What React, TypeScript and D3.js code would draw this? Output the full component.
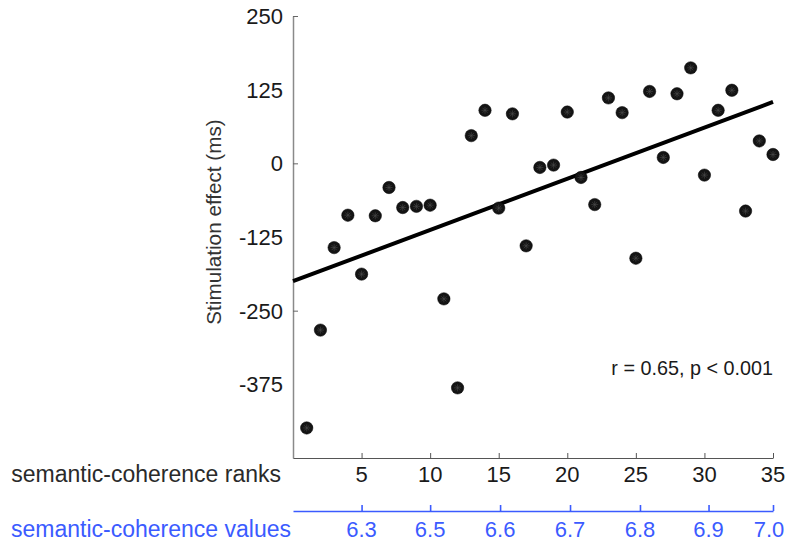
import { useEffect, useRef } from "react";
import * as d3 from "d3";

// Stimulation effect (ms) for each semantic-coherence rank (1..35)
const ranks = d3.range(1, 36);
const effects = [
  -449, -283, -143, -88, -188, -89, -41, -75, -73, -71,
  -230, -381, 47, 90, -76, 84, -140, -7, -3, 87,
  -24, -70, 111, 86, -161, 122, 10, 118, 162, -20,
  90, 124, -81, 38, 15,
];

// Least-squares line as drawn in the figure
const fitIntercept = -200;
const fitSlope = 8.69;

const yTickValues = [250, 0, -250];
const yLabelValues = [250, 125, 0, -125, -250, -375];
const rankTicks = [5, 10, 15, 20, 25, 30, 35];

// semantic-coherence values and the rank position they fall on
const cohValues = ["6.3", "6.5", "6.6", "6.7", "6.8", "6.9", "7.0"];
const cohRanks = [5, 10, 15.1, 20.2, 25.3, 30.3, 35];

const annotation = "r = 0.65, p < 0.001";

const BLUE = "#3b5bff";
const FONT = "'Liberation Sans', Arial, Helvetica, sans-serif";

export default function App() {
  const svgRef = useRef<SVGSVGElement>(null);
  const width = 790;
  const height = 546;

  useEffect(() => {
    if (!svgRef.current) return;
    const svg = d3.select(svgRef.current);
    svg.selectAll("*").remove();

    const x = d3.scaleLinear().domain([0, 35]).range([293, 773]);
    const y = d3.scaleLinear().domain([-500, 250]).range([458, 16]);

    // y axis (ticks inward)
    const yAxis = svg.append("g")
      .attr("transform", `translate(${x(0)},0)`)
      .call(d3.axisRight(y).tickValues(yTickValues).tickSize(5).tickSizeOuter(0).tickFormat(() => ""));
    yAxis.select(".domain").attr("stroke", "#8a8a8a").attr("stroke-width", 1.5);
    yAxis.selectAll(".tick line").attr("stroke", "#666");

    // y labels
    svg.append("g")
      .selectAll("text")
      .data(yLabelValues)
      .join("text")
      .attr("x", 283)
      .attr("y", d => y(d))
      .attr("dy", "0.36em")
      .attr("text-anchor", "end")
      .attr("font-family", FONT)
      .attr("font-size", 22)
      .attr("fill", "#1a1a1a")
      .text(d => (d < 0 ? "-" + Math.abs(d) : String(d)));

    // x axis (ranks)
    const xAxis = svg.append("g")
      .attr("transform", `translate(0,${y(-500)})`)
      .call(d3.axisTop(x).tickValues(rankTicks).tickSize(5).tickSizeOuter(0).tickFormat(() => ""));
    xAxis.select(".domain").attr("stroke", "#555").attr("stroke-width", 1.2);
    xAxis.selectAll(".tick line").attr("stroke", "#555");

    svg.append("g")
      .selectAll("text")
      .data(rankTicks)
      .join("text")
      .attr("x", d => x(d))
      .attr("y", 482)
      .attr("text-anchor", "middle")
      .attr("font-family", FONT)
      .attr("font-size", 22)
      .attr("fill", "#1a1a1a")
      .text(d => String(d));

    svg.append("text")
      .attr("x", 281)
      .attr("y", 482)
      .attr("text-anchor", "end")
      .attr("font-family", FONT)
      .attr("font-size", 23)
      .attr("fill", "#2a2a2a")
      .text("semantic-coherence ranks");

    // blue axis (values)
    const vAxis = svg.append("g")
      .attr("transform", "translate(0,511)")
      .call(d3.axisTop(x).tickValues(cohRanks).tickSize(6).tickSizeOuter(0).tickFormat(() => ""));
    vAxis.select(".domain").attr("stroke", BLUE).attr("stroke-width", 1.6);
    vAxis.selectAll(".tick line").attr("stroke", BLUE).attr("stroke-width", 1.6);

    svg.append("g")
      .selectAll("text")
      .data(cohValues)
      .join("text")
      .attr("x", (_d, i) => x(cohRanks[i]))
      .attr("y", 537)
      .attr("text-anchor", "middle")
      .attr("dx", (_d, i) => (i === cohValues.length - 1 ? -4 : 0))
      .attr("font-family", FONT)
      .attr("font-size", 22)
      .attr("fill", BLUE)
      .text(d => d);

    svg.append("text")
      .attr("x", 291)
      .attr("y", 537)
      .attr("text-anchor", "end")
      .attr("font-family", FONT)
      .attr("font-size", 23)
      .attr("fill", BLUE)
      .text("semantic-coherence values");

    // y axis title
    svg.append("text")
      .attr("transform", "translate(221,222) rotate(-90)")
      .attr("text-anchor", "middle")
      .attr("font-family", FONT)
      .attr("font-size", 20.7)
      .attr("fill", "#333")
      .text("Stimulation effect (ms)");

    // regression line
    svg.append("line")
      .attr("x1", x(0))
      .attr("y1", y(fitIntercept))
      .attr("x2", x(35))
      .attr("y2", y(fitIntercept + fitSlope * 35))
      .attr("stroke", "#000")
      .attr("stroke-width", 4);

    // points
    const pts = svg.append("g")
      .selectAll("g")
      .data(ranks)
      .join("g")
      .attr("transform", (d, i) => `translate(${x(d)},${y(effects[i])})`);
    pts.append("circle")
      .attr("r", 6.2)
      .attr("fill", "#141414")
      .attr("stroke", "#000")
      .attr("stroke-width", 0.5);
    // faint asterisk inside each marker
    [0, 45, 90, 135].forEach(a => {
      pts.append("line")
        .attr("x1", -3.5).attr("x2", 3.5)
        .attr("y1", 0).attr("y2", 0)
        .attr("transform", `rotate(${a})`)
        .attr("stroke", "#4a4a4a")
        .attr("stroke-width", 0.6);
    });

    // annotation
    svg.append("text")
      .attr("x", 773)
      .attr("y", 368)
      .attr("dy", "0.35em")
      .attr("text-anchor", "end")
      .attr("font-family", FONT)
      .attr("font-size", 19.8)
      .attr("fill", "#1a1a1a")
      .text(annotation);
  }, []);

  return (
    <svg
      ref={svgRef}
      width={width}
      height={height}
      viewBox={`0 0 ${width} ${height}`}
      style={{ position: "absolute", left: 0, top: 0, background: "#fff" }}
    />
  );
}
